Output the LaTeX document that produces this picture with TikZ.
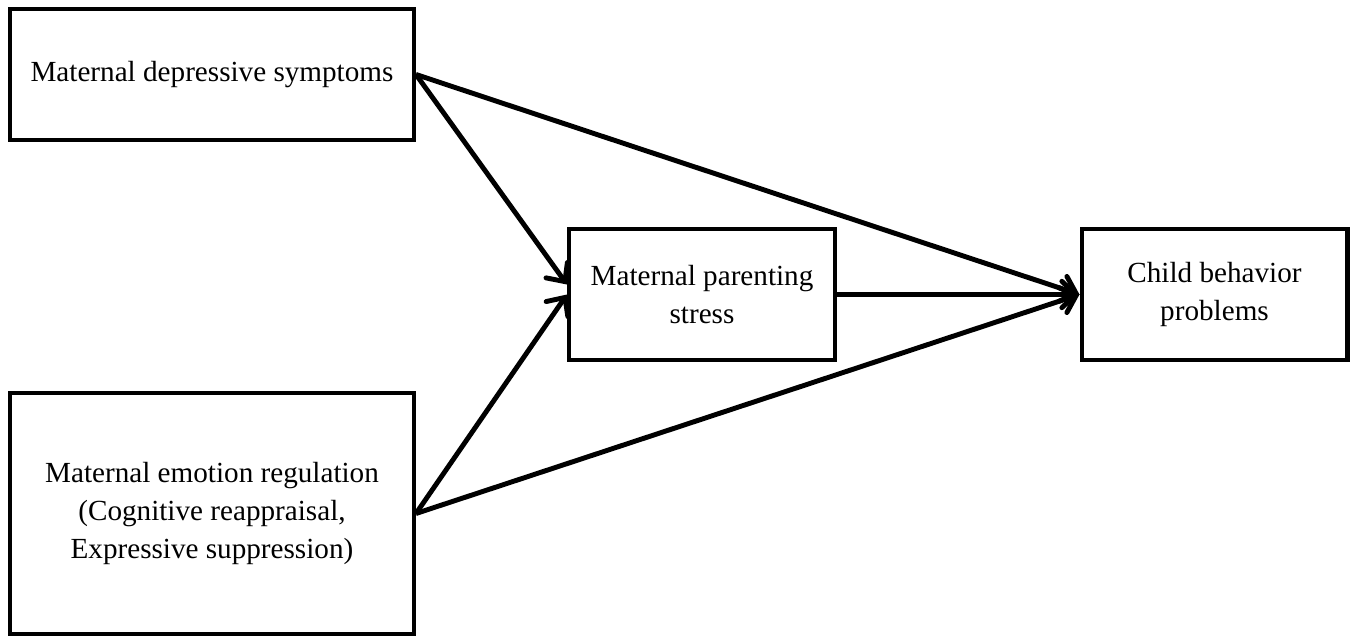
\documentclass[tikz,border=0pt]{standalone}
\usepackage{fontspec}
\setmainfont{Liberation Serif}
\usetikzlibrary{arrows.meta,calc,positioning}

\begin{document}
\begin{tikzpicture}[x=0.02cm,y=-0.02cm,
        varbox/.style={draw,line width=2.3pt,align=center,inner sep=0pt,
            font=\fontsize{16.6}{21.5}\selectfont},
        path/.style={line width=2.8pt,line join=round,
            -{Straight Barb[length=8pt,width=15pt,line cap=round]}}]
        \useasboundingbox (0,0) rectangle (1357,639);

        \node[varbox,minimum width=8.08cm,minimum height=2.62cm] (dep) at (212,74.5)
            {Maternal depressive symptoms};
        \node[varbox,minimum width=8.08cm,minimum height=4.82cm] (emo) at (212,513.5)
            {Maternal emotion regulation\\(Cognitive reappraisal,\\Expressive suppression)};
        \node[varbox,minimum width=5.32cm,minimum height=2.62cm] (stress) at (702,294.5)
            {Maternal parenting\\stress};
        \node[varbox,minimum width=5.32cm,minimum height=2.62cm] (child) at (1214.5,294.5)
            {Child behavior\\problems};

        \draw[path] (dep.east) -- ($(stress.west)+(0,-10)$);
        \draw[path] (emo.east) -- (stress.west);
        \draw[path] (dep.east) -- (child.west);
        \draw[path] (emo.east) -- (child.west);
        \draw[path] (stress.east) -- (child.west);
    \end{tikzpicture}
\end{document}
